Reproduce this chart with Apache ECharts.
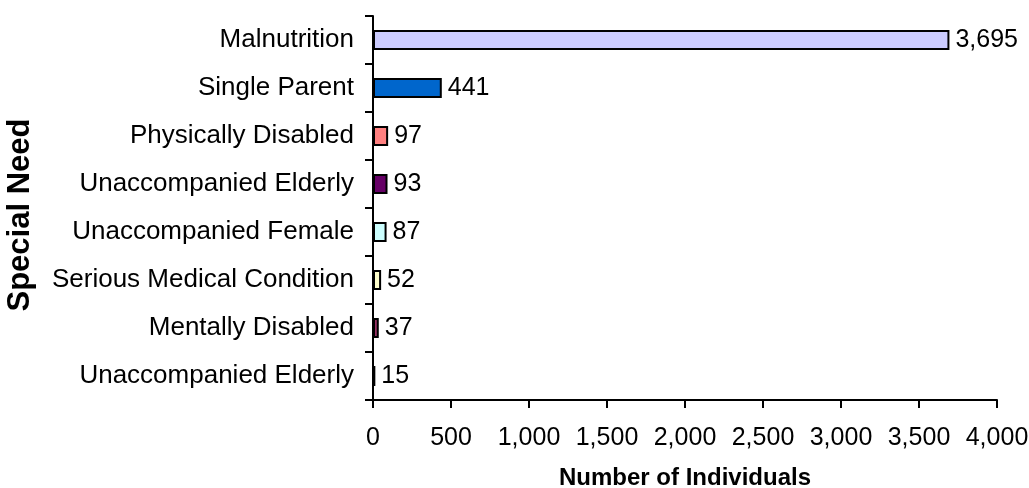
<!DOCTYPE html>
<html>
<head>
<meta charset="utf-8">
<script src="https://cdn.jsdelivr.net/npm/echarts@6/dist/echarts.min.js"></script>
<style>
  html, body { margin: 0; padding: 0; background: #fff; }
  #chart { width: 1029px; height: 488px; }
</style>
</head>
<body>
<div id="chart"></div>
<script>
// categories listed top to bottom, as in the picture
const needs = [
  "Malnutrition",
  "Single Parent",
  "Physically Disabled",
  "Unaccompanied Elderly",
  "Unaccompanied Female",
  "Serious Medical Condition",
  "Mentally Disabled",
  "Unaccompanied Elderly"
];
const individuals = [3695, 441, 97, 93, 87, 52, 37, 15];
const xTicks = [0, 500, 1000, 1500, 2000, 2500, 3000, 3500, 4000];

// old excel fill palette
const fills = ["#CCCCFF", "#0066CC", "#FF8080", "#660066", "#CCFFFF", "#FFFFCC", "#993366", "#9999FF"];

const font = "'Liberation Sans', Arial, sans-serif";
const fmt = v => Number(v).toLocaleString("en-US");

const chart = echarts.init(document.getElementById("chart"));
chart.setOption({
  animation: false,
  textStyle: { fontFamily: font },
  grid: { left: 373, right: 32, top: 16, bottom: 88, containLabel: false, outerBoundsMode: "none" },
  xAxis: {
    type: "value",
    min: xTicks[0],
    max: xTicks[xTicks.length - 1],
    interval: 500,
    name: "Number of Individuals",
    nameLocation: "middle",
    nameGap: 66,
    nameTextStyle: { fontSize: 24, fontWeight: "bold", color: "#000", fontFamily: font },
    axisLine: { show: true, lineStyle: { color: "#000", width: 2 } },
    axisTick: { show: true, length: 8, lineStyle: { color: "#000", width: 2 } },
    axisLabel: { fontSize: 25, color: "#000", margin: 26, fontFamily: font, formatter: fmt },
    splitLine: { show: false }
  },
  yAxis: {
    type: "category",
    inverse: true,
    data: needs,
    name: "Special Need",
    nameLocation: "middle",
    nameGap: 337,
    nameRotate: 90,
    nameTextStyle: { fontSize: 31, fontWeight: "bold", color: "#000", fontFamily: font, padding: [0, 14, 0, 0] },
    axisLine: { show: true, lineStyle: { color: "#000", width: 2 } },
    axisTick: { show: true, length: 8, alignWithLabel: false, lineStyle: { color: "#000", width: 2 } },
    axisLabel: { fontSize: 26, color: "#000", margin: 19, fontFamily: font, interval: 0 },
    splitLine: { show: false }
  },
  series: [{
    type: "bar",
    barWidth: 20,
    data: individuals.map((v, i) => ({
      value: v,
      itemStyle: { color: fills[i], borderColor: "#000", borderWidth: 2 }
    })),
    label: {
      show: true,
      position: "right",
      distance: 6,
      fontSize: 25,
      color: "#000",
      fontFamily: font,
      formatter: p => fmt(p.value)
    }
  }]
});
</script>
</body>
</html>
